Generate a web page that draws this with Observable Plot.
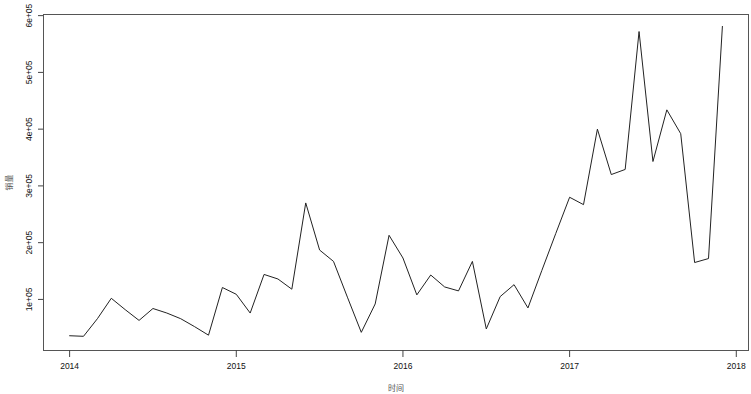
<!DOCTYPE html>
<html>
<head>
<meta charset="utf-8">
<script src="https://cdn.jsdelivr.net/npm/d3@7"></script>
<script src="https://cdn.jsdelivr.net/npm/@observablehq/plot@0.6"></script>
<style>
  html, body { margin: 0; padding: 0; background: #fff; }
  #chart svg { display: block; }
</style>
</head>
<body>
<div id="chart"></div>
<script>
const months = [
  "2014-01","2014-02","2014-03","2014-04","2014-05","2014-06","2014-07","2014-08","2014-09","2014-10","2014-11","2014-12",
  "2015-01","2015-02","2015-03","2015-04","2015-05","2015-06","2015-07","2015-08","2015-09","2015-10","2015-11","2015-12",
  "2016-01","2016-02","2016-03","2016-04","2016-05","2016-06","2016-07","2016-08","2016-09","2016-10","2016-11","2016-12",
  "2017-01","2017-02","2017-03","2017-04","2017-05","2017-06","2017-07","2017-08","2017-09","2017-10","2017-11","2017-12"
];
const sales = [
  36000, 35000, 66000, 102000, 82000, 63000, 84000, 76000, 66000, 52000, 37000, 121000,
  109000, 76000, 144000, 136000, 118000, 270000, 187000, 167000, 104000, 42000, 92000, 213000,
  173000, 108000, 143000, 122000, 115000, 167000, 48000, 105000, 126000, 85000, 151000, 216000,
  280000, 267000, 400000, 320000, 329000, 572000, 343000, 434000, 392000, 165000, 172000, 581000
];
const xTicks = [2014, 2015, 2016, 2017, 2018];
const yTicks = [100000, 200000, 300000, 400000, 500000, 600000];
const yTickLabels = ["1e+05", "2e+05", "3e+05", "4e+05", "5e+05", "6e+05"];
const xTitle = "时间";
const yTitle = "销量";

const data = months.map((m, i) => {
  const [yy, mm] = m.split("-").map(Number);
  return { t: yy + (mm - 1) / 12, v: sales[i] };
});

const num = "'Liberation Sans', Arial, Helvetica, sans-serif";
const cjk = "'Noto Sans CJK SC', sans-serif";

const chart = Plot.plot({
  width: 751,
  height: 394,
  marginLeft: 43,
  marginRight: 3,
  marginTop: 14,
  marginBottom: 44,
  style: { fontFamily: num, background: "#fff" },
  x: { type: "linear", domain: [2013.8433, 2018.0733], axis: null },
  y: { domain: [10000, 602000], axis: null },
  marks: [
    Plot.frame({ stroke: "#555", strokeWidth: 1 }),
    Plot.axisX({ ticks: xTicks, tickSize: 7, fill: "none", stroke: "#444", label: null }),
    Plot.axisY({ ticks: yTicks, tickSize: 5, fill: "none", stroke: "#444", label: null }),
    Plot.text(xTicks, { x: d => d, text: d => String(d), frameAnchor: "bottom", dy: 16, lineAnchor: "middle", fontSize: 8.5, fill: "#111" }),
    Plot.text(yTicks, { y: d => d, text: (d, i) => yTickLabels[i], frameAnchor: "left", dx: -14, rotate: -90, textAnchor: "middle", lineAnchor: "middle", fontSize: 8.5, fill: "#111" }),
    Plot.line(data, { x: "t", y: "v", stroke: "#222", strokeWidth: 1 }),
    Plot.text([xTitle], { text: d => d, frameAnchor: "bottom", dy: 38, lineAnchor: "middle", fontFamily: cjk, fontSize: 8, fill: "#555" }),
    Plot.text([yTitle], { text: d => d, frameAnchor: "left", dx: -34, rotate: -90, textAnchor: "middle", lineAnchor: "middle", fontFamily: cjk, fontSize: 8, fill: "#555" })
  ]
});
document.getElementById("chart").appendChild(chart);
</script>
</body>
</html>
